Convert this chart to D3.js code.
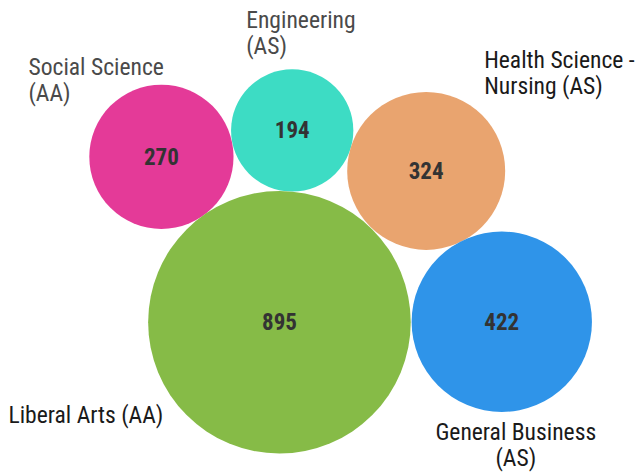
<!DOCTYPE html>
<html>
<head>
<meta charset="utf-8">
<script src="https://cdn.jsdelivr.net/npm/d3@7"></script>
<style>
  html, body { margin: 0; padding: 0; background: #fff; }
  svg text { font-family: "Roboto Condensed", Roboto, sans-serif; font-stretch: condensed; }
</style>
</head>
<body>
<div id="chart"></div>
<script>
// ---- Data ----
const programs = ['Social Science (AA)', 'Engineering (AS)', 'Health Science - Nursing (AS)', 'Liberal Arts (AA)', 'General Business (AS)'];
const enrollment = [270, 194, 324, 895, 422];
// bubble position (percent of chart width / height)
const posX = [25.3, 45.8, 66.8, 43.8, 78.65];
const posY = [32.95, 27.4, 35.9, 67.7, 67.6];
const colors = ['#e43a98', '#3ddcc4', '#e9a46f', '#86bb47', '#2f94e9'];

// label lines (how the names wrap)
const labelLines = [
  ['Social Science', '(AA)'],
  ['Engineering', '(AS)'],
  ['Health Science -', 'Nursing (AS)'],
  ['Liberal Arts (AA)'],
  ['General Business', '(AS)']
];

const W = 638, H = 476;

// label placement relative to bubble centre
const labelPlace = [
  { dx: -133, dy: -82, anchor: 'start', fill: '#4a4a4a' },
  { dx: -46,  dy: -102, anchor: 'start', fill: '#4a4a4a' },
  { dx: 58,   dy: -103, anchor: 'start', fill: '#1a1a1a' },
  { dx: -271, dy: 101, anchor: 'start', fill: '#1a1a1a' },
  { dx: 14,   dy: 118, anchor: 'middle', fill: '#1a1a1a' }
];

const x = d3.scaleLinear().domain([0, 100]).range([0, W]);
const y = d3.scaleLinear().domain([0, 100]).range([0, H]);
const r = d3.scaleSqrt().domain([0, d3.max(enrollment)]).range([0, 131.3]);

const svg = d3.select('#chart').append('svg')
  .attr('width', W).attr('height', H);

const data = programs.map((p, i) => ({
  name: p, value: enrollment[i], x: posX[i], y: posY[i],
  color: colors[i], lines: labelLines[i], place: labelPlace[i]
}));

const node = svg.selectAll('.bubble').data(data).enter()
  .append('g').attr('class', 'bubble')
  .attr('transform', d => `translate(${x(d.x)},${y(d.y)})`);

node.append('circle')
  .attr('r', d => r(d.value))
  .attr('fill', d => d.color);

node.append('text')
  .attr('text-anchor', 'middle')
  .attr('dy', '0.35em')
  .attr('font-size', 23)
  .attr('font-weight', 700)
  .attr('fill', '#333')
  .text(d => d.value);

const lbl = node.append('text')
  .attr('text-anchor', d => d.place.anchor)
  .attr('font-size', 23.6)
  .attr('fill', d => d.place.fill)
  .attr('x', d => d.place.dx)
  .attr('y', d => d.place.dy);

lbl.selectAll('tspan').data(d => d.lines).enter()
  .append('tspan')
  .attr('x', function () { return d3.select(this.parentNode).attr('x'); })
  .attr('dy', (d, i) => i === 0 ? 0 : 26)
  .text(d => d);
</script>
</body>
</html>
